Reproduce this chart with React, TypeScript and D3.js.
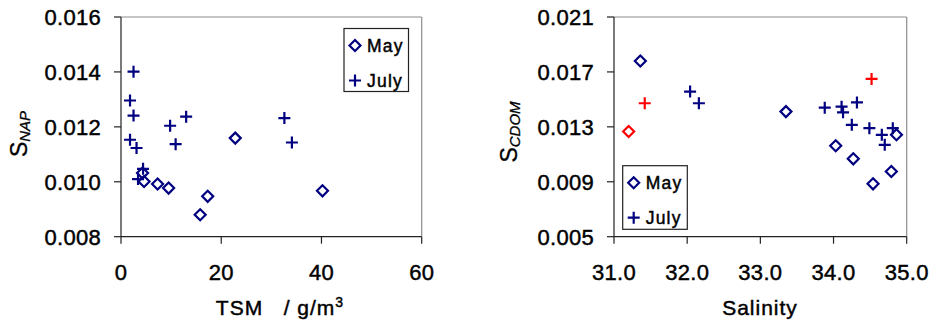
import React from "react";
import * as d3 from "d3";

// Left panel: S_NAP vs TSM
const tsmMay = [4.3, 4.6, 7.3, 9.5, 15.8, 17.3, 22.8, 40.2];
const snapMay = [0.01032, 0.01001, 0.00992, 0.00977, 0.0088, 0.00947, 0.01159, 0.00967];
const tsmJuly = [2.5, 1.8, 2.5, 1.8, 3.1, 4.4, 3.4, 9.8, 10.9, 13.0, 32.6, 34.1];
const snapJuly = [0.01401, 0.01296, 0.01241, 0.01153, 0.01123, 0.01047, 0.0101, 0.01204, 0.01137, 0.01237, 0.01232, 0.01143];
const tsmTicks = [0, 20, 40, 60];
const snapTicks = [0.008, 0.01, 0.012, 0.014, 0.016];

// Right panel: S_CDOM vs Salinity
const salMay = [31.36, 33.35, 34.03, 34.27, 34.54, 34.79, 34.86];
const scdomMay = [0.0178, 0.01411, 0.01162, 0.01067, 0.00885, 0.00975, 0.01242];
const salMayRed = [31.2];
const scdomMayRed = [0.01266];
const salJuly = [32.04, 32.16, 33.88, 34.11, 34.13, 34.32, 34.25, 34.49, 34.66, 34.7, 34.81];
const scdomJuly = [0.01557, 0.01472, 0.0144, 0.01447, 0.01406, 0.01478, 0.01315, 0.0129, 0.01242, 0.01169, 0.0129];
const salJulyRed = [31.42, 34.52];
const scdomJulyRed = [0.01472, 0.01649];
const salTicks = [31, 32, 33, 34, 35];
const scdomTicks = [0.005, 0.009, 0.013, 0.017, 0.021];

const NAVY = "#000080";
const RED = "#ff0000";
const FONT = "'Liberation Sans', Arial, sans-serif";
const TS = { stroke: "#000", strokeWidth: 0.45 } as const;

const Diamond = ({ x, y, c }: { x: number; y: number; c: string }) => (
  <path d={`M${x},${y - 5.5}L${x + 5.5},${y}L${x},${y + 5.5}L${x - 5.5},${y}Z`} fill="none" stroke={c} strokeWidth={2.2} />
);
const Plus = ({ x, y, c }: { x: number; y: number; c: string }) => (
  <path d={`M${x - 6},${y}H${x + 6}M${x},${y - 6}V${y + 6}`} fill="none" stroke={c} strokeWidth={2.2} />
);

type PanelProps = {
  x0: number; x1: number; y0: number; y1: number;
  xDom: [number, number]; yDom: [number, number];
  xTicks: number[]; yTicks: number[];
  xFmt: (v: number) => string; yFmt: (v: number) => string;
  series: { xs: number[]; ys: number[]; kind: "d" | "p"; color: string }[];
  xTitle: React.ReactNode; xTitleX: number;
  yMain: string; ySub: string; yTitleX: number; yTitleY: number;
  legend: { x: number; y: number; w: number; h: number };
};

const Panel = (p: PanelProps) => {
  const xs = d3.scaleLinear().domain(p.xDom).range([p.x0, p.x1]);
  const ys = d3.scaleLinear().domain(p.yDom).range([p.y1, p.y0]);
  return (
    <g fontFamily={FONT}>
      <line x1={p.x0} y1={p.y0} x2={p.x1} y2={p.y0} stroke="#8c8c8c" strokeWidth={1.2} />
      <line x1={p.x1} y1={p.y0} x2={p.x1} y2={p.y1} stroke="#8c8c8c" strokeWidth={1.2} />
      <line x1={p.x0} y1={p.y0} x2={p.x0} y2={p.y1} stroke="#222" strokeWidth={1.2} />
      <line x1={p.x0} y1={p.y1} x2={p.x1} y2={p.y1} stroke="#222" strokeWidth={1.2} />
      {p.yTicks.map((t) => (
        <g key={"y" + t}>
          <line x1={p.x0 - 7} x2={p.x0} y1={ys(t)} y2={ys(t)} stroke="#222" strokeWidth={1.2} />
          <text x={p.x0 - 20} y={ys(t) + 8} textAnchor="end" fontSize={22} fill="#000" {...TS} letterSpacing={0.3}>{p.yFmt(t)}</text>
        </g>
      ))}
      {p.xTicks.map((t) => (
        <g key={"x" + t}>
          <line x1={xs(t)} x2={xs(t)} y1={p.y1} y2={p.y1 + 7} stroke="#222" strokeWidth={1.2} />
          <text x={xs(t)} y={280} textAnchor="middle" fontSize={22} fill="#000" {...TS} letterSpacing={0.3}>{p.xFmt(t)}</text>
        </g>
      ))}
      {p.series.map((s, si) =>
        s.xs.map((v, i) =>
          s.kind === "d" ? (
            <Diamond key={si + "-" + i} x={xs(v)} y={ys(s.ys[i])} c={s.color} />
          ) : (
            <Plus key={si + "-" + i} x={xs(v)} y={ys(s.ys[i])} c={s.color} />
          )
        )
      )}
      <text x={p.xTitleX} y={315} textAnchor="middle" fontSize={21} fill="#000" letterSpacing={1} {...TS}>{p.xTitle}</text>
      <text transform={`translate(${p.yTitleX},${p.yTitleY}) rotate(-90)`} textAnchor="middle" fill="#000" strokeWidth={0.3} stroke="#000">
        <tspan fontSize={23}>{p.yMain}</tspan>
        <tspan fontSize={15} fontStyle="italic" dy={3}>{p.ySub}</tspan>
      </text>
      <rect x={p.legend.x} y={p.legend.y} width={p.legend.w} height={p.legend.h} fill="#fff" stroke="#222" strokeWidth={1.2} />
      <Diamond x={p.legend.x + 11} y={p.legend.y + 17} c={NAVY} />
      <text x={p.legend.x + 23} y={p.legend.y + 23.5} fontSize={17.5} letterSpacing={1.2} fill="#000" {...TS}>May</text>
      <Plus x={p.legend.x + 11} y={p.legend.y + 52} c={NAVY} />
      <text x={p.legend.x + 23} y={p.legend.y + 58.5} fontSize={17.5} letterSpacing={1.2} fill="#000" {...TS}>July</text>
    </g>
  );
};

export default function App() {
  const f3 = d3.format(".3f");
  const f0 = d3.format("d");
  const f1 = d3.format(".1f");
  return (
    <svg width={933} height={327} style={{ position: "absolute", left: 0, top: 0, background: "#fff" }}>
      <rect width={933} height={327} fill="#fff" />
      <Panel
        x0={121} x1={421.7} y0={17} y1={236.7}
        xDom={[0, 60]} yDom={[0.008, 0.016]}
        xTicks={tsmTicks} yTicks={snapTicks}
        xFmt={f0} yFmt={f3}
        series={[
          { xs: tsmMay, ys: snapMay, kind: "d", color: NAVY },
          { xs: tsmJuly, ys: snapJuly, kind: "p", color: NAVY },
        ]}
        xTitle={<>{"TSM\u00a0\u00a0 / g/m"}<tspan fontSize={14} dy={-8}>3</tspan></>}
        xTitleX={280}
        yMain="S" ySub="NAP" yTitleX={27} yTitleY={134}
        legend={{ x: 344, y: 28.5, w: 64.5, h: 63 }}
      />
      <Panel
        x0={614} x1={906.7} y0={17} y1={236.7}
        xDom={[31, 35]} yDom={[0.005, 0.021]}
        xTicks={salTicks} yTicks={scdomTicks}
        xFmt={f1} yFmt={f3}
        series={[
          { xs: salMay, ys: scdomMay, kind: "d", color: NAVY },
          { xs: salMayRed, ys: scdomMayRed, kind: "d", color: RED },
          { xs: salJuly, ys: scdomJuly, kind: "p", color: NAVY },
          { xs: salJulyRed, ys: scdomJulyRed, kind: "p", color: RED },
        ]}
        xTitle="Salinity"
        xTitleX={760}
        yMain="S" ySub="CDOM" yTitleX={517} yTitleY={132}
        legend={{ x: 622.7, y: 165.7, w: 64.6, h: 63.6 }}
      />
    </svg>
  );
}
